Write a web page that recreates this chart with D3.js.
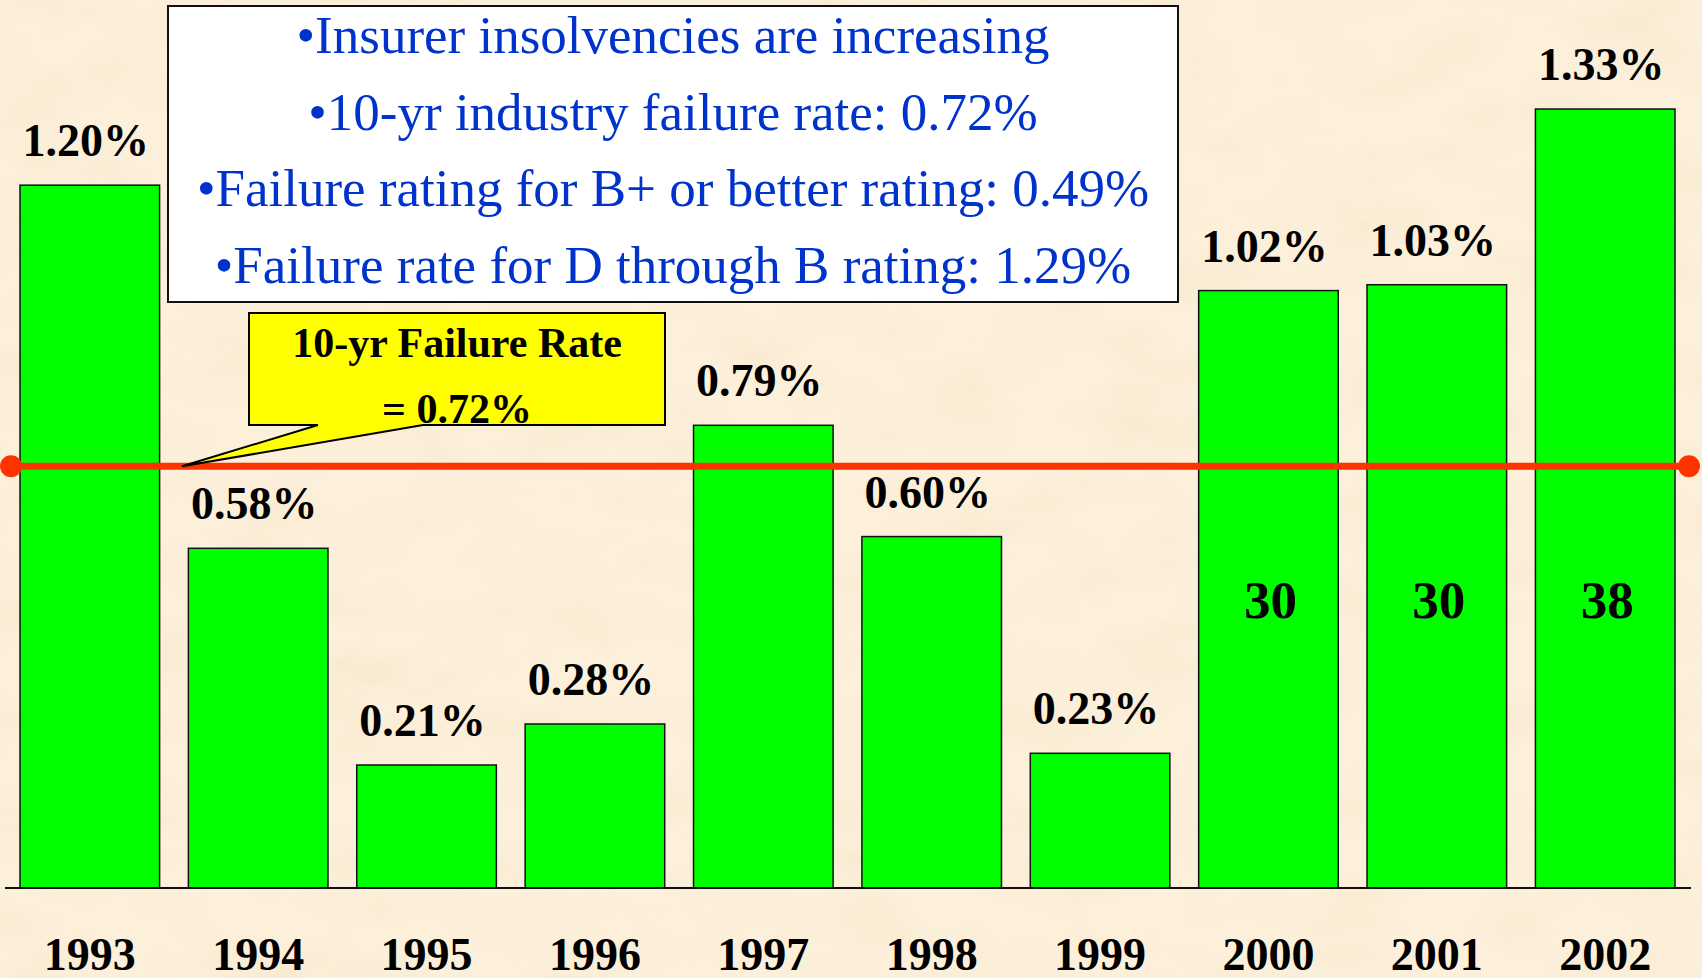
<!DOCTYPE html>
<html>
<head>
<meta charset="utf-8">
<script src="https://cdn.jsdelivr.net/npm/d3@7"></script>
<style>
  body { margin: 0; background: #fcefd9; }
  svg { display: block; }
  text { font-family: "Times New Roman", "Liberation Serif", serif; }
</style>
</head>
<body>
<div id="chart"></div>
<script>
// data
var years = ["1993", "1994", "1995", "1996", "1997", "1998", "1999", "2000", "2001", "2002"];
var failureRates = [1.20, 0.58, 0.21, 0.28, 0.79, 0.60, 0.23, 1.02, 1.03, 1.33];
var countYears = ["2000", "2001", "2002"];
var insolvencyCounts = [30, 30, 38];
var tenYearRate = 0.72;
var bulletLines = [
  "\u2022Insurer insolvencies are increasing",
  "\u202210-yr industry failure rate: 0.72%",
  "\u2022Failure rating for B+ or better rating: 0.49%",
  "\u2022Failure rate for D through B rating: 1.29%"
];
var calloutLines = ["10-yr Failure Rate", "= 0.72%"];

var svgWidth = 1702;
var svgHeight = 978;

var margin = {
  top: 10,
  right: 27,
  bottom: 90,
  left: 20
};

var baseY = 888;

var svg = d3.select("#chart")
  .append("svg")
  .attr("width", svgWidth)
  .attr("height", svgHeight);

// parchment background
var defs = svg.append("defs");
var paper = defs.append("filter")
  .attr("id", "paper")
  .attr("x", 0).attr("y", 0).attr("width", 1).attr("height", 1);
paper.append("feTurbulence")
  .attr("type", "fractalNoise")
  .attr("baseFrequency", "0.01 0.02")
  .attr("numOctaves", 4)
  .attr("seed", 7);
paper.append("feColorMatrix")
  .attr("type", "matrix")
  .attr("values", "0 0 0 0 0.86  0 0 0 0 0.74  0 0 0 0 0.52  0.7 0 0 0 -0.3");

svg.append("rect")
  .attr("width", svgWidth)
  .attr("height", svgHeight)
  .attr("fill", "#fdf0db");
svg.append("rect")
  .attr("width", svgWidth)
  .attr("height", svgHeight)
  .attr("filter", "url(#paper)");

// scales
var xBandScale = d3.scaleBand()
  .domain(years)
  .range([margin.left, svgWidth - margin.right])
  .paddingInner(0.171)
  .paddingOuter(0);

var yLinearScale = d3.scaleLinear()
  .domain([0, 1.5])
  .range([baseY, baseY - 1.5 * 585.7]);

// bars
svg.selectAll(".bar")
  .data(failureRates)
  .enter()
  .append("rect")
  .attr("class", "bar")
  .attr("x", (d, i) => xBandScale(years[i]))
  .attr("y", d => yLinearScale(d))
  .attr("width", xBandScale.bandwidth())
  .attr("height", d => baseY - yLinearScale(d))
  .attr("fill", "#00ff00")
  .attr("stroke", "#111")
  .attr("stroke-width", 1.5);

// value labels above bars
svg.selectAll(".rate-label")
  .data(failureRates)
  .enter()
  .append("text")
  .attr("class", "rate-label")
  .attr("x", (d, i) => xBandScale(years[i]) + xBandScale.bandwidth() / 2 - 4)
  .attr("y", d => yLinearScale(d) - 29)
  .attr("text-anchor", "middle")
  .attr("font-size", "46px")
  .attr("font-weight", "bold")
  .attr("fill", "#000")
  .text(d => d.toFixed(2) + "%");

// insolvency counts inside the last bars
svg.selectAll(".count-label")
  .data(insolvencyCounts)
  .enter()
  .append("text")
  .attr("class", "count-label")
  .attr("x", (d, i) => xBandScale(countYears[i]) + xBandScale.bandwidth() / 2 + 2)
  .attr("y", 618)
  .attr("text-anchor", "middle")
  .attr("font-size", "53px")
  .attr("font-weight", "bold")
  .attr("fill", "#000")
  .text(d => d);

// x axis: plain baseline plus year labels
var bottomAxis = d3.axisBottom(xBandScale)
  .tickSize(0)
  .tickPadding(0);

var xAxis = svg.append("g")
  .attr("transform", `translate(0, ${baseY})`)
  .call(bottomAxis);

xAxis.select(".domain").remove();
xAxis.selectAll("text")
  .attr("y", 82)
  .attr("dy", 0)
  .attr("font-family", null)
  .attr("font-size", "46px")
  .attr("font-weight", "bold")
  .attr("fill", "#000");

svg.append("line")
  .attr("x1", 5)
  .attr("x2", 1691)
  .attr("y1", baseY)
  .attr("y2", baseY)
  .attr("stroke", "#111")
  .attr("stroke-width", 2);

// 10-yr failure rate line
var rateY = yLinearScale(tenYearRate);
svg.append("line")
  .attr("x1", 11)
  .attr("x2", 1689)
  .attr("y1", rateY)
  .attr("y2", rateY)
  .attr("stroke", "#ff3300")
  .attr("stroke-width", 7);

svg.selectAll(".rate-end")
  .data([11, 1689])
  .enter()
  .append("circle")
  .attr("class", "rate-end")
  .attr("cx", d => d)
  .attr("cy", rateY)
  .attr("r", 11)
  .attr("fill", "#ff3300");

// white bullet box
svg.append("rect")
  .attr("x", 168)
  .attr("y", 6)
  .attr("width", 1010)
  .attr("height", 296)
  .attr("fill", "#fff")
  .attr("stroke", "#111")
  .attr("stroke-width", 2);

svg.selectAll(".bullet")
  .data(bulletLines)
  .enter()
  .append("text")
  .attr("class", "bullet")
  .attr("x", 673)
  .attr("y", (d, i) => 53 + i * 76.5)
  .attr("text-anchor", "middle")
  .attr("font-size", "53px")
  .attr("fill", "#0033cc")
  .text(d => d);

// yellow callout pointing at the red line
var box = { x0: 249, y0: 313, x1: 665, y1: 425 };
var callout = d3.path();
callout.moveTo(box.x0, box.y0);
callout.lineTo(box.x1, box.y0);
callout.lineTo(box.x1, box.y1);
callout.lineTo(423, box.y1);
callout.lineTo(182, rateY);
callout.lineTo(318, box.y1);
callout.lineTo(box.x0, box.y1);
callout.closePath();

svg.append("path")
  .attr("d", callout.toString())
  .attr("fill", "#ffff00")
  .attr("stroke", "#000")
  .attr("stroke-width", 2)
  .attr("stroke-linejoin", "miter");

svg.selectAll(".callout-text")
  .data(calloutLines)
  .enter()
  .append("text")
  .attr("class", "callout-text")
  .attr("x", 457)
  .attr("y", (d, i) => 357 + i * 66)
  .attr("text-anchor", "middle")
  .attr("font-size", "42px")
  .attr("font-weight", "bold")
  .attr("fill", "#000")
  .text(d => d);
</script>
</body>
</html>
